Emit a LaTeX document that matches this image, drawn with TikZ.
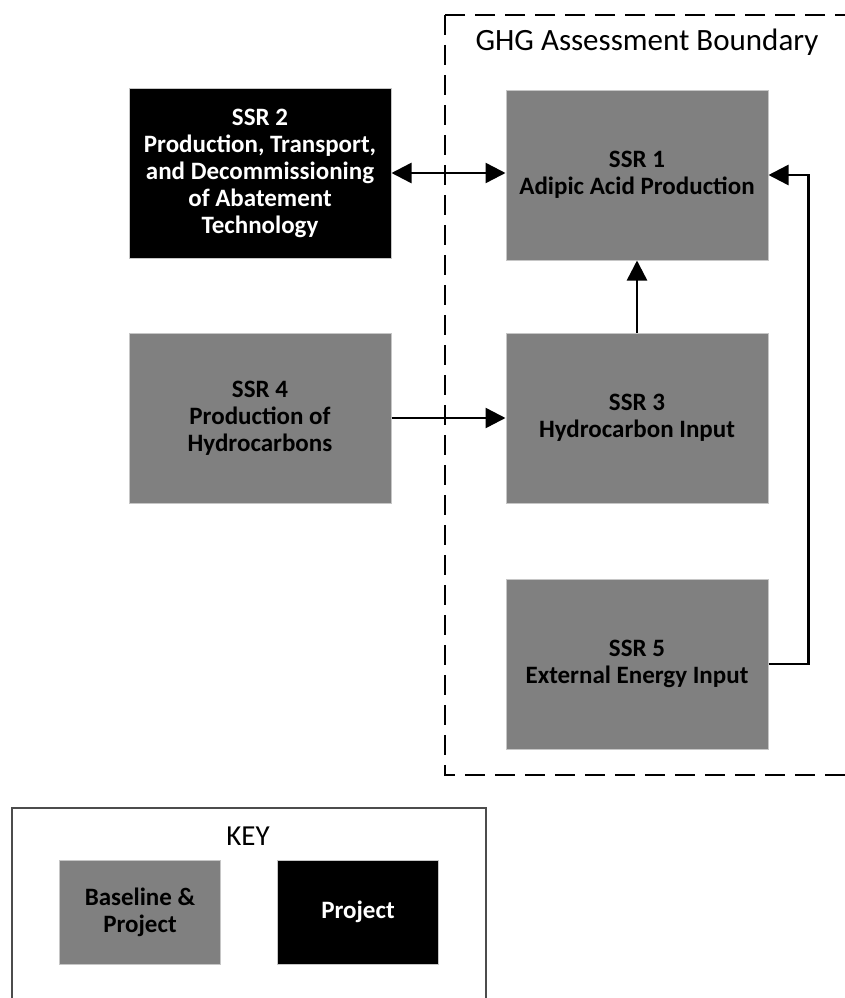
\documentclass[tikz,border=0pt]{standalone}
\usepackage{fontspec}
\setmainfont{Carlito}
\usetikzlibrary{arrows.meta}
\tikzstyle{ssr}=[draw=gray!45,line width=1pt,fill=gray,text=black,align=center,font=\bfseries\fontsize{25}{27}\selectfont,minimum width=262,minimum height=170,inner sep=0pt]
\tikzstyle{proj}=[ssr,fill=black,text=white]
\tikzstyle{keybox}=[minimum width=161,minimum height=104]
\tikzstyle{flow}=[line width=2.5pt,draw=black,-{Triangle[length=20pt,width=20pt]}]
\tikzstyle{twoway}=[flow,{Triangle[length=20pt,width=20pt]}-{Triangle[length=20pt,width=20pt]}]
\tikzstyle{boundary}=[line width=2.5pt,dash pattern=on 20pt off 10pt]

\begin{document}
\begin{tikzpicture}[x=1pt,y=-1pt]
          \useasboundingbox (0,0) rectangle (845,998);

          % assessment boundary and key frame
          \draw[boundary] (445,15) rectangle (880,775);
          \node (ghg) at (647,42) {\fontsize{31}{37}\selectfont GHG Assessment Boundary};
          \draw[line width=1.2pt,draw=black!70] (12,1010) |- (486,808) -- (486,1010);
          \node (key) at (248,836) {\fontsize{29}{35}\selectfont KEY};

          % sources, sinks and reservoirs
          \node[ssr] (ssr1) at (637,175) {SSR 1\\Adipic Acid Production};
          \node[proj] (ssr2) at (260,173) {SSR 2\\Production, Transport,\\and Decommissioning\\of Abatement\\Technology};
          \node[ssr] (ssr3) at (637,418) {SSR 3\\Hydrocarbon Input};
          \node[ssr] (ssr4) at (260,418) {SSR 4\\Production of\\Hydrocarbons};
          \node[ssr] (ssr5) at (637,664) {SSR 5\\External Energy Input};

          \node[ssr,keybox] (base) at (140,912) {Baseline \&\\Project};
          \node[proj,keybox] (project) at (358,912) {Project};

          \draw[twoway] (ssr2.east) -- (ssr2.east -| ssr1.west);
          \draw[flow] (ssr3) -- (ssr1);
          \draw[flow] (ssr4) -- (ssr3);
          \draw[flow] (ssr5.east) -- ++(40,0) |- (ssr1.east);
        \end{tikzpicture}
\end{document}
